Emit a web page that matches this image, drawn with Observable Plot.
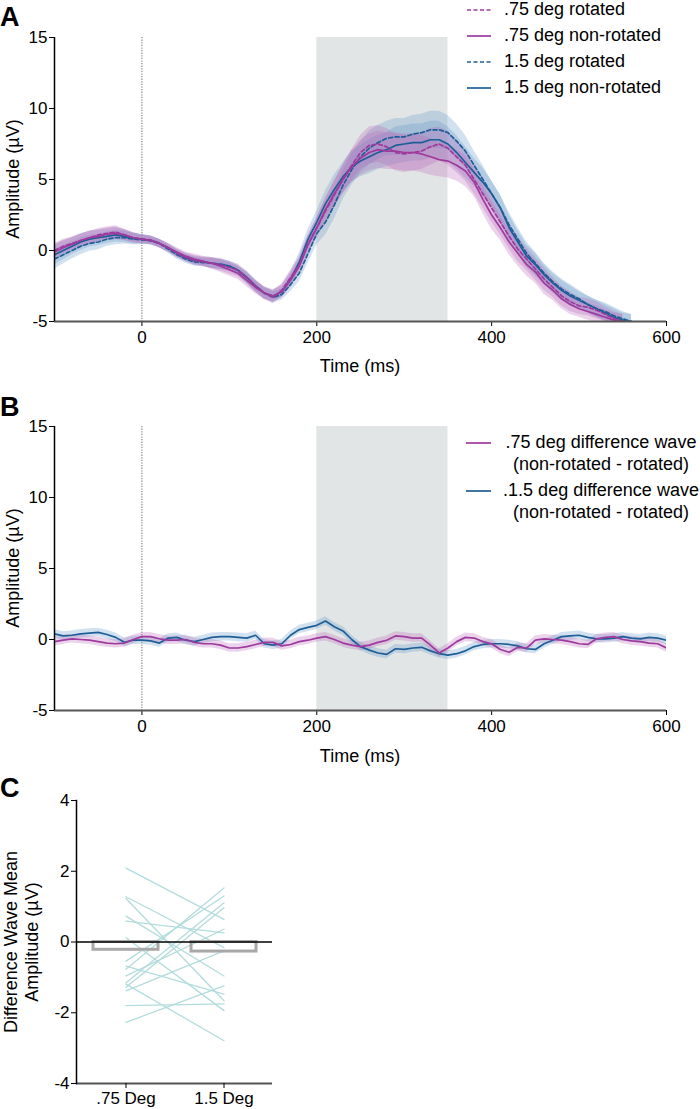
<!DOCTYPE html>
<html>
<head>
<meta charset="utf-8">
<script src="https://cdn.jsdelivr.net/npm/d3@7"></script>
<script src="https://cdn.jsdelivr.net/npm/@observablehq/plot@0.6"></script>
<style>
html,body{margin:0;padding:0;background:#fff;}
#root{position:relative;width:700px;height:1109px;overflow:hidden;font-family:"Liberation Sans",Arial,Helvetica,sans-serif;}
#root svg{position:absolute;left:0;overflow:visible;}
</style>
</head>
<body>
<div id="root"></div>
<script>
// ---------- Panel A data (ms, µV) ----------
const timesA = [-100,-90,-80,-70,-60,-50,-40,-30,-20,-10,
  0,10,20,30,40,50,60,70,80,90,
  100,110,120,130,140,150,160,170,180,190,
  200,210,220,230,240,250,260,270,280,290,
  300,310,320,330,340,350,360,370,380,390,
  400,410,420,430,440,450,460,470,480,490,
  500,510,520,530,540,550,560];

const deg75Rotated = [0.0,0.3,0.5,0.7,0.9,1.1,1.2,1.3,1.1,0.9,
  0.8,0.75,0.5,0.2,-0.2,-0.5,-0.7,-0.8,-0.9,-1.0,
  -1.2,-1.4,-1.9,-2.5,-3.0,-3.3,-2.8,-1.9,-1.0,0.5,
  1.6,2.8,3.9,5.0,6.0,6.9,7.4,7.5,7.3,6.9,
  6.8,6.9,7.0,7.3,7.5,7.2,6.6,6.0,5.0,4.0,
  3.0,2.0,1.0,0.1,-0.6,-1.3,-2.0,-2.6,-3.2,-3.6,
  -3.9,-4.0,-4.2,-4.5,-4.8,-5.0,null];

const deg75NonRotated = [-0.1,0.2,0.45,0.7,0.9,1.0,1.15,1.2,1.1,0.9,
  0.8,0.7,0.5,0.2,-0.1,-0.4,-0.6,-0.75,-0.9,-1.1,
  -1.35,-1.6,-2.1,-2.6,-3.0,-3.2,-2.9,-2.1,-1.1,0.4,
  1.6,2.9,4.0,5.0,5.9,6.5,6.9,7.1,7.0,7.0,
  6.9,6.9,6.8,6.6,6.4,6.3,6.0,5.6,4.8,3.6,
  2.5,1.6,0.6,-0.2,-1.0,-1.5,-2.3,-2.8,-3.4,-3.8,
  -4.1,-4.3,-4.5,-4.7,-4.9,-5.0,null];

const deg15Rotated = [-0.6,-0.3,0.0,0.3,0.5,0.6,0.8,0.9,0.9,0.8,
  0.75,0.7,0.5,0.1,-0.3,-0.6,-0.8,-0.85,-0.9,-0.95,
  -1.1,-1.4,-1.9,-2.5,-3.0,-3.3,-3.1,-2.4,-1.6,-0.2,
  1.2,2.0,3.2,4.6,5.7,6.6,7.2,7.6,7.9,8.0,
  8.0,8.2,8.3,8.5,8.5,8.3,7.7,7.0,6.0,5.0,
  4.0,3.0,1.8,0.8,-0.2,-0.9,-1.6,-2.2,-2.7,-3.1,
  -3.4,-3.8,-4.1,-4.3,-4.6,-4.8,-5.0];

const deg15NonRotated = [-0.3,0.0,0.3,0.6,0.8,0.9,1.0,1.1,1.0,0.85,
  0.8,0.7,0.5,0.2,-0.2,-0.5,-0.7,-0.8,-0.9,-1.0,
  -1.1,-1.4,-1.9,-2.5,-3.0,-3.2,-2.9,-2.0,-0.8,0.8,
  2.0,3.3,4.3,5.2,5.9,6.3,6.6,6.9,7.1,7.4,
  7.5,7.6,7.6,7.8,7.8,7.5,6.9,6.2,5.5,4.8,
  4.0,3.0,1.6,0.6,-0.4,-1.0,-1.7,-2.3,-2.8,-3.2,
  -3.5,-3.8,-4.1,-4.4,-4.7,-4.9,-5.0];

// half-width of shaded error bands
const sem75 = [0.5,0.5,0.45,0.45,0.45,0.45,0.45,0.45,0.4,0.35,
  0.3,0.3,0.3,0.3,0.3,0.3,0.35,0.35,0.4,0.45,
  0.45,0.45,0.45,0.45,0.45,0.45,0.45,0.5,0.55,0.6,
  0.7,0.8,0.9,1.0,1.1,1.2,1.3,1.3,1.3,1.3,
  1.3,1.3,1.3,1.3,1.2,1.2,1.1,1.1,1.0,1.0,
  1.0,0.9,0.9,0.9,0.8,0.8,0.8,0.7,0.7,0.7,
  0.6,0.6,0.6,0.5,0.5,0.5,0.5];
const sem15 = [0.7,0.65,0.6,0.6,0.55,0.55,0.5,0.5,0.45,0.4,
  0.35,0.3,0.3,0.3,0.3,0.3,0.3,0.3,0.35,0.35,
  0.35,0.35,0.4,0.4,0.4,0.4,0.4,0.5,0.6,0.7,
  0.8,0.9,1.0,1.0,1.1,1.1,1.2,1.2,1.2,1.3,
  1.3,1.3,1.3,1.3,1.3,1.2,1.2,1.1,1.0,1.0,
  0.9,0.9,0.9,0.8,0.8,0.8,0.7,0.7,0.7,0.7,
  0.6,0.6,0.6,0.6,0.6,0.5,0.5];

// ---------- Panel B data ----------
const timesB = [-100,-90,-80,-70,-60,-50,-40,-30,-20,-10,
  0,10,20,30,40,50,60,70,80,90,
  100,110,120,130,140,150,160,170,180,190,
  200,210,220,230,240,250,260,270,280,290,
  300,310,320,330,340,350,360,370,380,390,
  400,410,420,430,440,450,460,470,480,490,
  500,510,520,530,540,550,560,570,580,590,600];

const diff75 = [-0.15,-0.05,0.05,0.0,-0.05,-0.15,-0.25,-0.3,-0.25,0.0,
  0.2,0.2,0.05,-0.05,-0.05,0.0,-0.2,-0.3,-0.3,-0.4,
  -0.6,-0.6,-0.5,-0.35,-0.2,-0.2,-0.45,-0.35,-0.15,-0.05,
  0.1,0.2,0.0,-0.25,-0.4,-0.5,-0.4,-0.2,-0.05,0.25,
  0.2,0.1,0.1,-0.4,-0.95,-0.6,-0.15,0.15,0.1,-0.15,
  -0.3,-0.7,-0.9,-0.55,-0.6,-0.05,0.05,0.0,-0.05,-0.15,
  -0.3,-0.35,0.05,0.15,0.2,0.0,-0.1,-0.15,-0.25,-0.3,-0.6];

const diff15 = [0.4,0.25,0.3,0.4,0.45,0.5,0.35,0.15,-0.2,-0.05,
  -0.05,-0.1,-0.25,0.1,0.15,-0.05,-0.15,0.0,0.15,0.2,
  0.2,0.15,0.1,0.3,-0.3,-0.4,-0.3,0.3,0.7,0.85,
  1.0,1.3,0.9,0.6,0.0,-0.5,-0.75,-0.95,-1.05,-0.65,
  -0.7,-0.6,-0.55,-0.8,-1.0,-1.1,-1.0,-0.8,-0.5,-0.35,
  -0.3,-0.3,-0.35,-0.45,-0.65,-0.7,-0.3,-0.05,0.2,0.25,
  0.3,0.15,0.05,0.05,0.1,0.2,0.1,0.05,0.15,0.1,-0.05];

const semDiff = [0.3, 0.3]; // [.75 deg, 1.5 deg] band half-width

const analysisWindow = [{start: 200, end: 350}];

// ---------- Panel C data ----------
const sizeCats = [".75 Deg", "1.5 Deg"];
const subj75 = [2.09, 1.28, 1.23, 0.73, 0.59, 0.12, -0.54, -0.68, -0.77, -0.96, -1.15, -1.19, -1.28, -1.38, -1.80, -2.27];
const subj15 = [0.64, -0.16, -1.66, -0.96, 0.26, -1.94, 1.30, -1.47, 1.53, 0.36, 1.11, -2.79, 0.97, -0.25, -1.75, -1.24];
const barMeans = [-0.22, -0.27];

// ---------- styles ----------
const FONT = '"Liberation Sans", Arial, Helvetica, sans-serif';
const MAG = "#9e3a9d", BLU = "#1e5e97";
const MAG_BAND = "#b866b6", BLU_BAND = "#5c94c4";
const SHADE = "#e2e5e6";
const fmt = d => String(d);
const root = d3.select("#root");

function waveData(times, vals, sem) {
  return times.map((t, i) => {
    const v = vals[i];
    const s = Array.isArray(sem) ? sem[i] : sem;
    return v == null ? {t, v: null, lo: null, hi: null} : {t, v, lo: v - s, hi: v + s};
  });
}

function wavePlot(series) {
  const marks = [
    Plot.rect(analysisWindow, {x1: "start", x2: "end", fill: SHADE}),
    Plot.ruleX([0], {stroke: "#808080", strokeWidth: 1.1, strokeDasharray: "1.3,1.3"})
  ];
  for (const s of series) marks.push(Plot.areaY(s.data, {x: "t", y1: "lo", y2: "hi", fill: s.band, fillOpacity: 0.28, clip: true}));
  for (const s of series) marks.push(Plot.line(s.data, {x: "t", y: "v", stroke: s.color, strokeWidth: 1.7, strokeDasharray: s.dash || null, clip: true}));
  marks.push(
    Plot.axisY({ticks: [-5, 0, 5, 10, 15], tickSize: 5, tickPadding: 2, tickFormat: fmt, label: null}),
    Plot.axisX({ticks: [0, 200, 400, 600], tickSize: 5, tickPadding: 4, tickFormat: fmt, label: null}),
    Plot.ruleY([-5], {stroke: "#555", strokeWidth: 2}),
    Plot.ruleX([-100], {stroke: "#000", strokeWidth: 1.5})
  );
  return Plot.plot({
    width: 700, height: 380,
    marginLeft: 54, marginRight: 34, marginTop: 37, marginBottom: 59,
    x: {domain: [-100, 600]},
    y: {domain: [-5, 15]},
    style: {fontFamily: FONT, fontSize: "17px", color: "#000", background: "transparent"},
    marks
  });
}

function addText(svg, x, y, txt, opts = {}) {
  const t = svg.append("text")
    .attr("x", x).attr("y", y)
    .attr("font-family", FONT)
    .attr("font-size", opts.size || 18)
    .attr("font-weight", opts.bold ? "bold" : null)
    .attr("text-anchor", opts.anchor || "start")
    .attr("dominant-baseline", opts.baseline || "middle")
    .attr("fill", "#000")
    .text(txt);
  if (opts.rotate) t.attr("transform", `rotate(-90,${x},${y})`);
  return t;
}

// ---------- Panel A ----------
const seriesA = [
  {data: waveData(timesA, deg15Rotated, sem15), color: BLU, band: BLU_BAND, dash: "4,2.5"},
  {data: waveData(timesA, deg15NonRotated, sem15), color: BLU, band: BLU_BAND},
  {data: waveData(timesA, deg75Rotated, sem75), color: MAG, band: MAG_BAND, dash: "4,2.5"},
  {data: waveData(timesA, deg75NonRotated, sem75), color: MAG, band: MAG_BAND}
];
const plotA = wavePlot(seriesA);
plotA.style.top = "0px";
root.node().appendChild(plotA);
const sA = d3.select(plotA);
addText(sA, 0, 26, "A", {size: 27, bold: true, baseline: "auto"});
addText(sA, 14, 179, "Amplitude (µV)", {anchor: "middle", rotate: true});
addText(sA, 360, 367, "Time (ms)", {anchor: "middle"});
const legA = [
  {label: ".75 deg rotated", color: MAG, dash: "4,2.5"},
  {label: ".75 deg non-rotated", color: MAG},
  {label: "1.5 deg rotated", color: BLU, dash: "4,2.5"},
  {label: "1.5 deg non-rotated", color: BLU}
];
legA.forEach((d, i) => {
  const y = 10 + i * 26;
  sA.append("line").attr("x1", 467).attr("x2", 491).attr("y1", y).attr("y2", y)
    .attr("stroke", d.color).attr("stroke-width", 1.7).attr("stroke-dasharray", d.dash || null);
  addText(sA, 504, y, d.label);
});

// ---------- Panel B ----------
const seriesB = [
  {data: waveData(timesB, diff15, semDiff[1]), color: BLU, band: BLU_BAND},
  {data: waveData(timesB, diff75, semDiff[0]), color: MAG, band: MAG_BAND}
];
const plotB = wavePlot(seriesB);
plotB.style.top = "389px";
root.node().appendChild(plotB);
const sB = d3.select(plotB);
addText(sB, 0, 27, "B", {size: 27, bold: true, baseline: "auto"});
addText(sB, 14, 179, "Amplitude (µV)", {anchor: "middle", rotate: true});
addText(sB, 360, 368, "Time (ms)", {anchor: "middle"});
const legB = [
  {label: ".75 deg difference wave", color: MAG},
  {label: ".1.5 deg difference wave", color: BLU}
];
legB.forEach((d, i) => {
  const y = 54 + i * 48;
  sB.append("line").attr("x1", 466).attr("x2", 491).attr("y1", y).attr("y2", y)
    .attr("stroke", d.color).attr("stroke-width", 1.7);
  addText(sB, 601, y, d.label, {anchor: "middle"});
  addText(sB, 601, y + 22, "(non-rotated - rotated)", {anchor: "middle"});
});

// ---------- Panel C ----------
const spaghetti = subj75.flatMap((v, i) => [
  {id: i, cat: sizeCats[0], v},
  {id: i, cat: sizeCats[1], v: subj15[i]}
]);
const barsC = sizeCats.map((c, i) => ({cat: c, v: barMeans[i]}));
const plotC = Plot.plot({
  width: 700, height: 349,
  marginLeft: 76, marginRight: 428, marginTop: 40, marginBottom: 26,
  x: {type: "band", domain: sizeCats, paddingInner: 0.337, paddingOuter: 0.168},
  y: {domain: [-4, 4]},
  style: {fontFamily: FONT, fontSize: "17px", color: "#000", background: "transparent"},
  marks: [
    Plot.line(spaghetti, {x: "cat", y: "v", z: "id", stroke: "#b4dcdc", strokeWidth: 1.3}),
    Plot.barY(barsC, {x: "cat", y: "v", fill: "none", stroke: "#a8a8a8", strokeWidth: 3}),
    Plot.ruleY([0], {stroke: "#000", strokeWidth: 1.5}),
    Plot.ruleY([-4], {stroke: "#555", strokeWidth: 2}),
    Plot.frame({anchor: "left", stroke: "#000", strokeWidth: 1.5}),
    Plot.axisY({ticks: [-4, -2, 0, 2, 4], tickSize: 5, tickPadding: 2, tickFormat: fmt, label: null}),
    Plot.axisX({tickSize: 5, tickPadding: 3, label: null})
  ]
});
plotC.style.top = "760px";
root.node().appendChild(plotC);
const sC = d3.select(plotC);
addText(sC, 0, 37, "C", {size: 27, bold: true, baseline: "auto"});
addText(sC, 12, 182, "Difference Wave Mean", {anchor: "middle", rotate: true});
addText(sC, 33, 182, "Amplitude (µV)", {anchor: "middle", rotate: true});
</script>
</body>
</html>
